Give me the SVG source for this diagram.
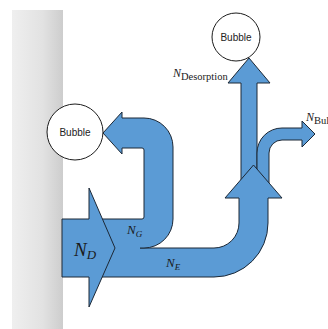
<svg xmlns="http://www.w3.org/2000/svg" width="328" height="329" viewBox="0 0 328 329">
<defs>
<linearGradient id="wallGrad" x1="0" y1="0" x2="1" y2="0">
<stop offset="0" stop-color="#efefef"/>
<stop offset="0.6" stop-color="#e2e2e2"/>
<stop offset="1" stop-color="#cdcdcd"/>
</linearGradient>
<style>
.arrow{fill:#5b9bd5;stroke:#1c2836;stroke-width:1;stroke-linejoin:miter}
.bubble{fill:#ffffff;stroke:#1c1c1c;stroke-width:1}
.btxt{font-family:"Liberation Sans",Arial,sans-serif;font-size:10px;fill:#222;text-anchor:middle}
.lbl{font-family:"Liberation Serif","Times New Roman",serif;fill:#1a1a1a}
.it{font-style:italic}
</style>
</defs>
<rect id="wall" x="12" y="10" width="51" height="319" fill="url(#wallGrad)"/>
<g id="connectors">
<path id="desorption" class="arrow" d="M 241 195 L 241 83 L 228 83 L 249 58 L 270 83 L 257 83 L 257 195 Z"/>
<path id="bulk" class="arrow" d="M 257 195 L 257 153 A 25 25 0 0 1 282 128 L 302 128 L 302 121 L 315 134 L 302 147 L 302 140 L 282 140 A 13 13 0 0 0 269 153 L 269 195 Z"/>
<path id="flowE" class="arrow" d="M 89 248 L 214 248 A 25 25 0 0 0 239 223 L 239 198 L 225 198 L 253.5 165 L 282 198 L 268 198 L 268 223 A 54 54 0 0 1 214 277 L 89 277 Z"/>
<path id="flowG" class="arrow" d="M 89 219 L 142 219 Q 144 219 144 217 L 144 150 Q 144 148 142 148 L 122 148 L 122 154 L 103 133 L 122 112 L 122 118 L 144 118 A 29 29 0 0 1 173 147 L 173 219 A 29 29 0 0 1 144 248 L 89 248 Z"/>
<rect x="92" y="246" width="48" height="4" fill="#5b9bd5"/>
<path id="flowD" class="arrow" d="M 62 219 L 89 219 L 89 188 L 115 248 L 89 307 L 89 277 L 62 277 Z"/>
</g>
<g id="bubble1">
<circle class="bubble" cx="75" cy="132" r="28"/>
<text class="btxt" x="75" y="136">Bubble</text>
</g>
<g id="bubble2">
<circle class="bubble" cx="236" cy="37" r="24"/>
<text class="btxt" x="236" y="41">Bubble</text>
</g>
<g id="labels">
<text class="lbl" x="74" y="256"><tspan class="it" font-size="19">N</tspan><tspan class="it" font-size="13" dy="3">D</tspan></text>
<text class="lbl" x="127" y="234"><tspan class="it" font-size="13">N</tspan><tspan class="it" font-size="9" dy="2.5">G</tspan></text>
<text class="lbl" x="166" y="267"><tspan class="it" font-size="13">N</tspan><tspan class="it" font-size="9" dy="2.5">E</tspan></text>
<text class="lbl" x="173" y="77"><tspan class="it" font-size="12">N</tspan><tspan font-size="10.5" dy="3">Desorption</tspan></text>
<text class="lbl" x="306" y="121"><tspan class="it" font-size="12">N</tspan><tspan font-size="10.5" dy="3">Bulk</tspan></text>
</g>
</svg>
